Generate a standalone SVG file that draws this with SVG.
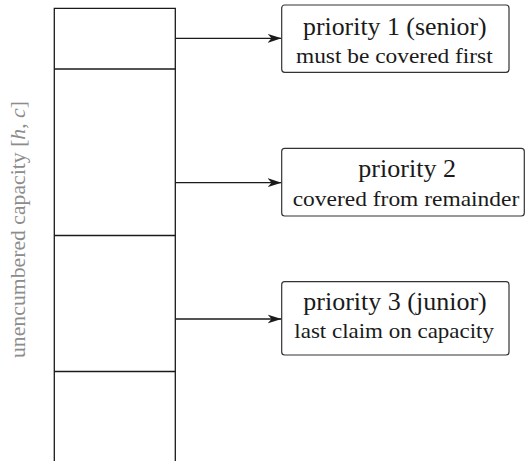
<svg xmlns="http://www.w3.org/2000/svg" width="526" height="461" viewBox="0 0 526 461">
  <style>
    .col { fill: none; stroke: #1a1a1a; stroke-width: 1.3; }
    .box { fill: #ffffff; stroke: #333333; stroke-width: 1.2; }
    .conn { fill: none; stroke: #1a1a1a; stroke-width: 1.3; marker-end: url(#stealth); }
    text { font-family: "Liberation Serif", "DejaVu Serif", serif; }
    .t1 { font-size: 24.5px; fill: #1a1a1a; }
    .t2 { font-size: 21.5px; fill: #1a1a1a; }
    .axis { font-size: 21px; fill: #8c8c8c; }
  </style>
  <defs>
    <marker id="stealth" markerUnits="userSpaceOnUse" viewBox="0 0 14 10" refX="14" refY="5" markerWidth="14" markerHeight="10" orient="auto">
      <path d="M0,0.5 L14,5 L0,9.5 L4,5 Z" fill="#1a1a1a"/>
    </marker>
  </defs>

  <rect width="526" height="461" fill="#ffffff"/>

  <!-- capacity column with tranche dividers -->
  <g id="capacity-column">
    <path class="col" d="M54.3,470 V8.3 H175.3 V470"/>
    <line class="col" x1="54.3" y1="69" x2="175.3" y2="69"/>
    <line class="col" x1="54.3" y1="235.5" x2="175.3" y2="235.5"/>
    <line class="col" x1="54.3" y1="371.5" x2="175.3" y2="371.5"/>
  </g>

  <!-- vertical axis label -->
  <g id="axis-label">
    <text class="axis" transform="translate(25,358) rotate(-90)" textLength="257" lengthAdjust="spacingAndGlyphs">unencumbered capacity [<tspan font-style="italic">h</tspan>, <tspan font-style="italic">c</tspan>]</text>
  </g>

  <!-- connectors -->
  <g id="connectors">
    <line class="conn" x1="175.3" y1="38.3" x2="281.5" y2="38.3"/>
    <line class="conn" x1="175.3" y1="182.7" x2="281.5" y2="182.7"/>
    <line class="conn" x1="175.3" y1="319" x2="281.5" y2="319"/>
  </g>

  <g id="priority-1">
    <rect class="box" x="281.7" y="5" width="227.3" height="67.3" rx="3"/>
    <text class="t1" x="303" y="35" textLength="183.7" lengthAdjust="spacingAndGlyphs">priority 1 (senior)</text>
    <text class="t2" x="296" y="62.5" textLength="196.7" lengthAdjust="spacingAndGlyphs">must be covered first</text>
  </g>

  <g id="priority-2">
    <rect class="box" x="281.7" y="148.3" width="242.6" height="67.7" rx="3"/>
    <text class="t1" x="358.3" y="176.7" textLength="97.7" lengthAdjust="spacingAndGlyphs">priority 2</text>
    <text class="t2" x="292.7" y="205.7" textLength="226.6" lengthAdjust="spacingAndGlyphs">covered from remainder</text>
  </g>

  <g id="priority-3">
    <rect class="box" x="281.7" y="281.7" width="227.3" height="73.3" rx="3"/>
    <text class="t1" x="303.3" y="310" textLength="183.4" lengthAdjust="spacingAndGlyphs">priority 3 (junior)</text>
    <text class="t2" x="294.3" y="338.3" textLength="199.7" lengthAdjust="spacingAndGlyphs">last claim on capacity</text>
  </g>
</svg>
